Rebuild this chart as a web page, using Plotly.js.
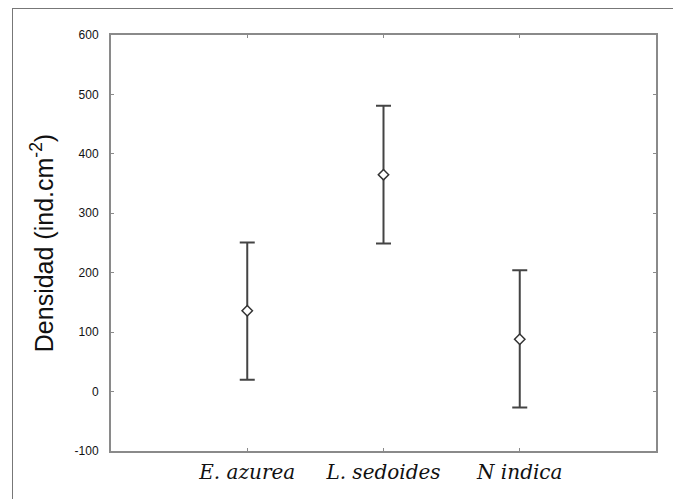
<!DOCTYPE html>
<html>
<head>
<meta charset="utf-8">
<script src="https://cdn.plot.ly/plotly-3.0.1.min.js"></script>
<style>
html,body{margin:0;padding:0;background:#fff;}
#frame{position:absolute;left:12px;top:8px;width:700px;height:520px;border-left:1px solid #777;border-top:1px solid #777;}
#chart{position:absolute;left:0;top:0;width:673px;height:499px;}
</style>
</head>
<body>
<div id="frame"></div>
<div id="chart"></div>
<script>
var categories = ["E. azurea", "L. sedoides", "N indica"];
var means = [136, 365, 88];
var upper = [251, 481, 204];
var lower = [20, 249, -27];
var yTickVals = [-100, 0, 100, 200, 300, 400, 500, 600];
var yTickText = ["-100", "0", "100", "200", "300", "400", "500", "600"];

var errPlus = means.map(function(m, i){ return upper[i] - m; });
var errMinus = means.map(function(m, i){ return m - lower[i]; });

var trace = {
  type: 'scatter',
  mode: 'markers',
  x: categories,
  y: means,
  marker: {symbol: 'diamond', size: 8, color: '#ffffff', line: {color: '#333333', width: 1.5}},
  error_y: {type: 'data', symmetric: false, array: errPlus, arrayminus: errMinus,
            color: '#444444', thickness: 2, width: 7.5},
  hoverinfo: 'none'
};

var layout = {
  width: 673, height: 499,
  margin: {l: 111, r: 17, t: 35, b: 48},
  paper_bgcolor: 'rgba(0,0,0,0)',
  plot_bgcolor: '#ffffff',
  showlegend: false,
  font: {family: 'Liberation Sans'},
  xaxis: {
    type: 'category', range: [-1, 3],
    showline: true, linecolor: '#8a8a8a', linewidth: 2, mirror: 'ticks',
    ticks: 'inside', ticklen: 3, tickcolor: '#8a8a8a', tickwidth: 1,
    showgrid: false, zeroline: false,
    ticklabelstandoff: 2,
    tickfont: {family: 'DejaVu Serif', size: 20, color: '#111111', style: 'italic'}
  },
  yaxis: {
    range: [-100, 600], tickvals: yTickVals, ticktext: yTickText,
    showline: true, linecolor: '#8a8a8a', linewidth: 2, mirror: 'ticks',
    ticks: 'inside', ticklen: 3, tickcolor: '#8a8a8a', tickwidth: 1,
    showgrid: false, zeroline: false,
    ticklabelstandoff: 8,
    tickfont: {family: 'Liberation Sans', size: 12, color: '#111111'},
    title: {text: 'Densidad (ind.cm<sup>-2</sup>)', standoff: 14,
            font: {family: 'Liberation Sans', size: 25, color: '#111111'}}
  }
};

Plotly.newPlot('chart', [trace], layout, {displayModeBar: false, staticPlot: true});
</script>
</body>
</html>
